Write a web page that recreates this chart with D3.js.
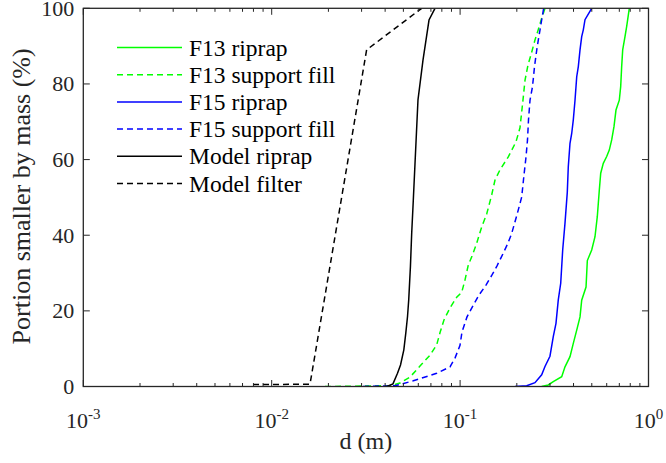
<!DOCTYPE html>
<html>
<head>
<meta charset="utf-8">
<script src="https://cdn.jsdelivr.net/npm/d3@7"></script>
<style>
  html, body { margin: 0; padding: 0; background: #fff; }
  svg { display: block; }
</style>
</head>
<body>
<svg id="chart" width="666" height="463"></svg>
<script>
// Grain size distributions: [d (m), portion smaller by mass (%)]
const f13Riprap = [
  [0.2710, 0], [0.2938, 0.4], [0.3123, 1.3], [0.3462, 2.6], [0.3604, 5.2],
  [0.3831, 7.9], [0.3989, 11.4], [0.4159, 14.9], [0.4330, 18.4], [0.4420, 22.8],
  [0.4660, 26.3], [0.4735, 33.3], [0.4995, 36.1], [0.5200, 39.6], [0.5348, 44.9],
  [0.5481, 51.9], [0.5576, 56.4], [0.5755, 59.0], [0.5998, 60.8], [0.6192, 62.5],
  [0.6377, 65.2], [0.6558, 68.7], [0.6721, 73.1], [0.6998, 75.7], [0.7118, 79.3],
  [0.7205, 84.6], [0.7295, 89.0], [0.7503, 92.5], [0.7660, 95.2], [0.7908, 100]
];
const f13Support = [
  [0.01918, 0], [0.04244, 0.2], [0.04797, 0.9], [0.05422, 2.5], [0.06126, 5.4],
  [0.06924, 8.3], [0.07510, 11.0], [0.07819, 14.2], [0.08210, 17.6], [0.08839, 20.8],
  [0.09594, 23.6], [0.1020, 24.9], [0.1062, 28.2], [0.1105, 32.1], [0.1157, 34.5],
  [0.1225, 37.9], [0.1302, 42.2], [0.1384, 45.6], [0.1472, 50.7], [0.1532, 54.6],
  [0.1628, 57.3], [0.1802, 60.7], [0.1980, 64.7], [0.2079, 68.4], [0.2123, 72.6],
  [0.2157, 75.8], [0.2211, 81.0], [0.2293, 85.0], [0.2378, 87.7], [0.2497, 91.6],
  [0.2606, 94.5], [0.2710, 97.4], [0.2822, 100]
];
const f15Riprap = [
  [0.1956, 0], [0.2257, 0.2], [0.2497, 1.0], [0.2710, 3.1], [0.2822, 5.3],
  [0.2999, 8.0], [0.3123, 13.2], [0.3228, 16.7], [0.3320, 22.9], [0.3420, 27.3],
  [0.3504, 36.1], [0.3604, 43.2], [0.3707, 51.4], [0.3752, 58.1], [0.3831, 64.3],
  [0.3912, 66.9], [0.3989, 70.5], [0.4073, 75.7], [0.4159, 81.9], [0.4241, 84.6],
  [0.4330, 89.0], [0.4420, 92.5], [0.4508, 94.3], [0.4602, 97.0], [0.4995, 100]
];
const f15Support = [
  [0.03052, 0], [0.04512, 0.2], [0.05645, 1.5], [0.07510, 3.5], [0.08839, 5.2],
  [0.09395, 7.5], [0.09989, 10.9], [0.1023, 14.4], [0.1088, 18.4], [0.1175, 21.5],
  [0.1260, 24.2], [0.1372, 26.8], [0.1477, 29.5], [0.1570, 31.9], [0.1689, 35.1],
  [0.1795, 37.9], [0.1879, 40.5], [0.2004, 45.4], [0.2123, 50.1], [0.2183, 55.9],
  [0.2238, 60.7], [0.2279, 65.2], [0.2307, 70.5], [0.2350, 75.7], [0.2423, 79.3],
  [0.2483, 84.6], [0.2560, 89.5], [0.2639, 93.5], [0.2720, 97.4], [0.2777, 100]
];
const modelRiprap = [
  [0.0409, 0], [0.04402, 0.7], [0.04653, 3.5], [0.04828, 5.7], [0.05027, 9.7],
  [0.05151, 14.2], [0.05259, 18.5], [0.05337, 22.9], [0.05449, 31.7], [0.05535, 40.6],
  [0.05645, 49.3], [0.05977, 75.8], [0.06354, 86.3], [0.06839, 96.9], [0.07357, 100]
];
const modelFilter = [
  [0.00796, 0.5], [0.01597, 0.6], [0.0319, 89.0], [0.0625, 100]
];

const seriesNames = ["F13 riprap", "F13 support fill", "F15 riprap", "F15 support fill", "Model riprap", "Model filter"];
const seriesData = [f13Riprap, f13Support, f15Riprap, f15Support, modelRiprap, modelFilter];
const seriesColors = ["#00ff00", "#00ff00", "#0000ff", "#0000ff", "#000000", "#000000"];
const seriesDashed = [false, true, false, true, false, true];

const xDecades = [-3, -2, -1, 0];
const yTicks = [0, 20, 40, 60, 80, 100];

const width = 666, height = 463;
const margin = { top: 8.3, right: 17.5, bottom: 76.5, left: 83.3 };
const serifFont = "'Liberation Serif', 'Times New Roman', Times, 'DejaVu Serif', serif";
const svg = d3.select("#chart")
  .attr("font-family", serifFont);

const x = d3.scaleLog().domain([1e-3, 1]).range([margin.left, width - margin.right]);
const y = d3.scaleLinear().domain([0, 100]).range([height - margin.bottom, margin.top]);

const plot = svg.append("g");
svg.append("clipPath").attr("id", "clip").append("rect")
  .attr("x", margin.left).attr("y", margin.top)
  .attr("width", x.range()[1] - x.range()[0]).attr("height", y.range()[0] - y.range()[1]);

const line = d3.line().x(d => x(d[0])).y(d => y(d[1]));

// data lines
seriesData.forEach((data, i) => {
  plot.append("path")
    .datum(data)
    .attr("clip-path", "url(#clip)")
    .attr("fill", "none")
    .attr("stroke", seriesColors[i])
    .attr("stroke-width", 1.5)
    .attr("stroke-dasharray", seriesDashed[i] ? "6,4" : null)
    .attr("d", line);
});

// axes box with inward ticks on all sides
const axisColor = "#262626";
const x0 = x.range()[0], x1 = x.range()[1], y0 = y.range()[0], y1 = y.range()[1];
const ax = svg.append("g").attr("stroke", axisColor).attr("stroke-width", 1).attr("fill", "none");

const minorVals = [];
xDecades.slice(0, -1).forEach(e => { for (let m = 2; m <= 9; m++) minorVals.push(m * Math.pow(10, e)); });
minorVals.forEach(v => {
  const px = x(v);
  ax.append("line").attr("x1", px).attr("x2", px).attr("y1", y0).attr("y2", y0 - 3.5);
  ax.append("line").attr("x1", px).attr("x2", px).attr("y1", y1).attr("y2", y1 + 3.5);
});
xDecades.forEach(e => {
  const px = x(Math.pow(10, e));
  ax.append("line").attr("x1", px).attr("x2", px).attr("y1", y0).attr("y2", y0 - 6.5);
  ax.append("line").attr("x1", px).attr("x2", px).attr("y1", y1).attr("y2", y1 + 6.5);
});
yTicks.forEach(v => {
  const py = y(v);
  ax.append("line").attr("x1", x0).attr("x2", x0 + 6.5).attr("y1", py).attr("y2", py);
  ax.append("line").attr("x1", x1).attr("x2", x1 - 6.5).attr("y1", py).attr("y2", py);
});
ax.append("rect").attr("x", x0).attr("y", y1).attr("width", x1 - x0).attr("height", y0 - y1)
  .attr("stroke-width", 1.3);

const textColor = "#262626";

// y tick labels
svg.append("g").selectAll("text").data(yTicks).join("text")
  .attr("x", x0 - 9).attr("y", d => y(d) + 7.5)
  .attr("text-anchor", "end").attr("font-size", 22).attr("fill", textColor)
  .text(d => d);

// x tick labels as powers of ten
const xl = svg.append("g").selectAll("text").data(xDecades).join("text")
  .attr("x", d => x(Math.pow(10, d))).attr("y", 428)
  .attr("text-anchor", "middle").attr("font-size", 22).attr("fill", textColor);
xl.append("tspan").text("10");
xl.append("tspan").attr("font-size", 15).attr("dy", -9).text(d => String(d));

// axis titles
svg.append("text").attr("x", (x0 + x1) / 2).attr("y", 449)
  .attr("text-anchor", "middle").attr("font-size", 24).attr("fill", textColor).text("d (m)");
svg.append("text")
  .attr("transform", `translate(30,${(y0 + y1) / 2 - 1}) rotate(-90)`)
  .attr("text-anchor", "middle").attr("font-size", 26).attr("fill", textColor)
  .text("Portion smaller by mass (%)");

// legend
const legend = svg.append("g");
seriesNames.forEach((name, i) => {
  const ly = 47.5 + i * 27.2;
  legend.append("line")
    .attr("x1", 117).attr("x2", 182).attr("y1", ly).attr("y2", ly)
    .attr("stroke", seriesColors[i]).attr("stroke-width", 1.5)
    .attr("stroke-dasharray", seriesDashed[i] ? "6,4" : null);
  legend.append("text").attr("x", 189).attr("y", ly + 8)
    .attr("font-size", 23.5).attr("fill", "#000").text(name);
});
</script>
</body>
</html>
